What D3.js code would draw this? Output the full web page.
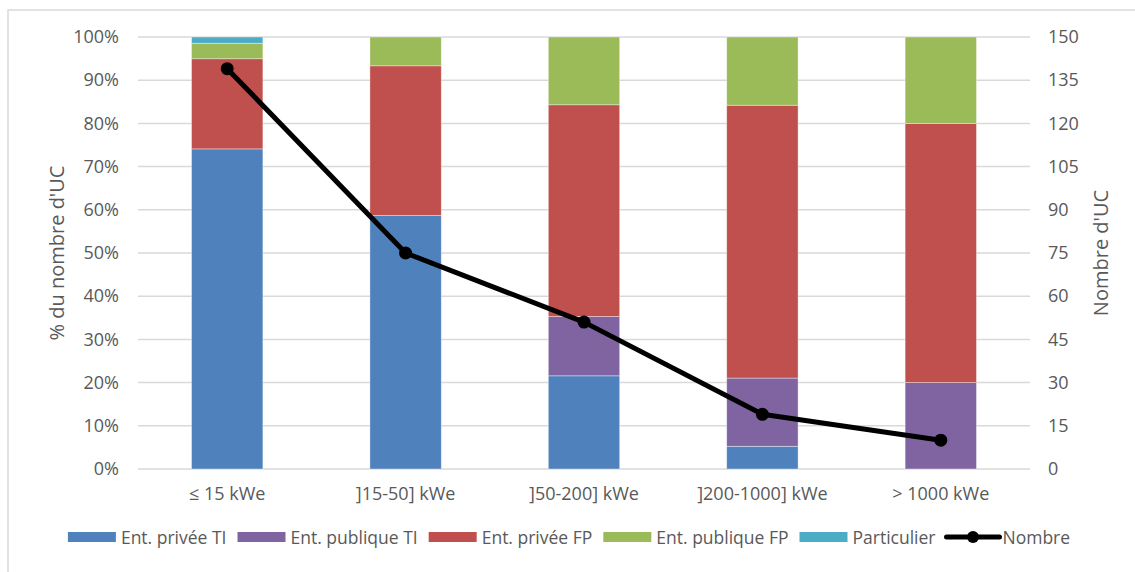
<!DOCTYPE html>
<html><head><meta charset="utf-8">
<script src="https://cdn.jsdelivr.net/npm/d3@7"></script>
<style>
html,body{margin:0;padding:0;background:#fff;}
svg{display:block;}
text{font-family:"Open Sans","Noto Sans",sans-serif;fill:#595959;}
</style></head>
<body>
<svg id="chart" width="1135" height="572"></svg>
<script>
const categories = ["≤ 15 kWe", "]15-50] kWe", "]50-200] kWe", "]200-1000] kWe", "> 1000 kWe"];
const seriesNames = ["Ent. privée TI", "Ent. publique TI", "Ent. privée FP", "Ent. publique FP", "Particulier"];
const entPriveeTI  = [103, 44, 11, 1, 0];
const entPubliqueTI = [0, 0, 7, 3, 2];
const entPriveeFP  = [29, 26, 25, 12, 6];
const entPubliqueFP = [5, 5, 8, 3, 2];
const particulier  = [2, 0, 0, 0, 0];
const nombre = [139, 75, 51, 19, 10];
const leftTicks = [0, 0.1, 0.2, 0.3, 0.4, 0.5, 0.6, 0.7, 0.8, 0.9, 1];
const rightTicks = [0, 15, 30, 45, 60, 75, 90, 105, 120, 135, 150];
const colors = ["#4F81BD", "#8064A2", "#C0504D", "#9BBB59", "#4BACC6"];

const seriesValues = [entPriveeTI, entPubliqueTI, entPriveeFP, entPubliqueFP, particulier];
const table = categories.map((c, i) => {
  const row = {cat: c};
  seriesNames.forEach((s, k) => row[s] = seriesValues[k][i]);
  return row;
});

const svg = d3.select("#chart");
const m = {left: 138, right: 1030, top: 37, bottom: 469};

// chart border
svg.append("rect").attr("x", 8).attr("y", 10).attr("width", 1140).attr("height", 600)
  .attr("fill", "none").attr("stroke", "#d9d9d9").attr("stroke-width", 1.5);

const x = d3.scaleBand().domain(categories).range([m.left, m.right]).paddingInner(0.6).paddingOuter(0.3);
const y = d3.scaleLinear().domain([0, 1]).range([m.bottom, m.top]);
const y2 = d3.scaleLinear().domain([0, 150]).range([m.bottom, m.top]);

// gridlines
svg.append("g").selectAll("line").data(leftTicks).join("line")
  .attr("x1", m.left).attr("x2", m.right)
  .attr("y1", d => y(d)).attr("y2", d => y(d))
  .attr("stroke", "#d9d9d9").attr("stroke-width", 1.5);

// stacked bars
const stack = d3.stack().keys(seriesNames).offset(d3.stackOffsetExpand);
const stacked = stack(table);
svg.append("g").selectAll("g").data(stacked).join("g")
  .attr("fill", (d, i) => colors[i])
  .selectAll("rect").data(d => d).join("rect")
  .attr("x", d => x(d.data.cat))
  .attr("width", x.bandwidth())
  .attr("y", d => y(d[1]))
  .attr("height", d => Math.max(0, y(d[0]) - y(d[1])))
  .attr("stroke", "#ffffff").attr("stroke-opacity", 0.5).attr("stroke-width", 0.75);

// line
const lineGen = d3.line().x((d, i) => x(categories[i]) + x.bandwidth() / 2).y(d => y2(d));
svg.append("path").datum(nombre).attr("d", lineGen)
  .attr("fill", "none").attr("stroke", "#000").attr("stroke-width", 5).attr("stroke-linejoin", "round");
svg.append("g").selectAll("circle").data(nombre).join("circle")
  .attr("cx", (d, i) => x(categories[i]) + x.bandwidth() / 2)
  .attr("cy", d => y2(d)).attr("r", 6.5).attr("fill", "#000");

// axes
const fs = 18;
const leftAxis = d3.axisLeft(y).tickValues(leftTicks).tickFormat(d3.format(".0%")).tickSize(0).tickPadding(19);
const gl = svg.append("g").attr("transform", `translate(${m.left},0)`).call(leftAxis);
gl.select(".domain").remove();
gl.selectAll("text").attr("font-size", fs).attr("font-family", null).style("fill", "#595959");

const rightAxis = d3.axisRight(y2).tickValues(rightTicks).tickFormat(d3.format("d")).tickSize(0).tickPadding(18);
const gr = svg.append("g").attr("transform", `translate(${m.right},0)`).call(rightAxis);
gr.select(".domain").remove();
gr.selectAll("text").attr("font-size", fs).attr("font-family", null).style("fill", "#595959");

const bottomAxis = d3.axisBottom(x).tickSize(0).tickPadding(18);
const gb = svg.append("g").attr("transform", `translate(0,${m.bottom})`).call(bottomAxis);
gb.select(".domain").remove();
gb.selectAll("text").attr("font-size", fs).attr("font-family", null).style("fill", "#595959");

// axis titles
svg.append("text").attr("transform", `translate(56,${(m.top + m.bottom) / 2}) rotate(-90)`)
  .attr("text-anchor", "middle").attr("dominant-baseline", "central").attr("font-size", 20)
  .text("% du nombre d'UC");
svg.append("text").attr("transform", `translate(1100,${(m.top + m.bottom) / 2}) rotate(-90)`)
  .attr("text-anchor", "middle").attr("dominant-baseline", "central").attr("font-size", 20)
  .text("Nombre d'UC");

// legend
const lg = svg.append("g");
const legendItems = seriesNames.map((s, i) => ({name: s, color: colors[i], type: "rect"}))
  .concat([{name: "Nombre", color: "#000", type: "line"}]);
const ly = 537;
const lfs = 17.5;
let cx = 0;
legendItems.forEach((it) => {
  const g = lg.append("g");
  const sw = 48;
  if (it.type === "rect") {
    g.append("rect").attr("x", cx).attr("y", ly - 5).attr("width", sw).attr("height", 10).attr("fill", it.color);
  } else {
    g.append("line").attr("x1", cx).attr("x2", cx + 53).attr("y1", ly).attr("y2", ly)
      .attr("stroke", "#000").attr("stroke-width", 5).attr("stroke-linecap", "round");
    g.append("circle").attr("cx", cx + 26.5).attr("cy", ly).attr("r", 6).attr("fill", "#000");
  }
  const tx = cx + (it.type === "rect" ? sw + 5 : 56);
  const t = g.append("text").attr("x", tx).attr("y", ly).attr("dominant-baseline", "central")
    .attr("font-size", lfs).text(it.name);
  const w = t.node().getComputedTextLength();
  cx = tx + w + 11;
});
const total = cx - 11;
lg.attr("transform", `translate(${569 - total / 2},0)`);
</script>
</body></html>
